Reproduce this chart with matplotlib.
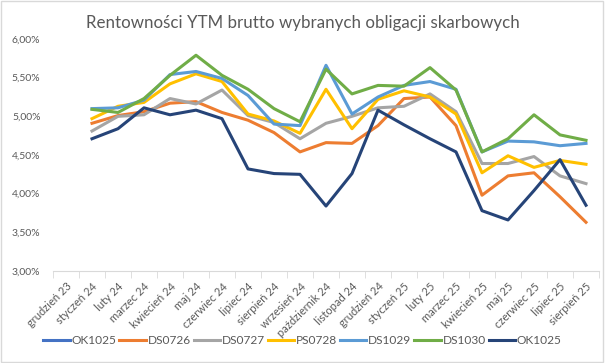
import matplotlib
matplotlib.use("Agg")
from matplotlib import pyplot as plt
from matplotlib.ticker import FuncFormatter
import numpy as np

plt.rcParams['font.family'] = ['Lato', 'DejaVu Sans']

months = ['grudzień 23', 'styczeń 24', 'luty 24', 'marzec 24', 'kwiecień 24', 'maj 24',
          'czerwiec 24', 'lipiec 24', 'sierpień 24', 'wrzesień 24', 'październik 24',
          'listopad 24', 'grudzień 24', 'styczeń 25', 'luty 25', 'marzec 25',
          'kwiecień 25', 'maj 25', 'czerwiec 25', 'lipiec 25', 'sierpień 25']

# yields in %, first month (grudzień 23) has no data
ok1025_a = [None] * 21
ds0726 = [None, 4.91, 5.01, 5.06, 5.17, 5.19, 5.05, 4.95, 4.79, 4.54, 4.66,
          4.65, 4.88, 5.23, 5.25, 4.88, 3.98, 4.23, 4.27, 3.96, 3.63]
ds0727 = [None, 4.81, 5.00, 5.02, 5.23, 5.16, 5.34, 5.01, 4.92, 4.71, 4.91,
          5.00, 5.11, 5.13, 5.29, 5.06, 4.39, 4.39, 4.48, 4.23, 4.13]
ps0728 = [None, 4.97, 5.13, 5.18, 5.42, 5.55, 5.45, 5.03, 4.94, 4.78, 5.35,
          4.84, 5.22, 5.33, 5.25, 5.03, 4.27, 4.49, 4.34, 4.43, 4.38]
ds1029 = [None, 5.10, 5.11, 5.21, 5.54, 5.58, 5.49, 5.27, 4.90, 4.88, 5.66,
          5.03, 5.25, 5.40, 5.45, 5.35, 4.54, 4.68, 4.67, 4.62, 4.65]
ds1030 = [None, 5.09, 5.05, 5.23, 5.53, 5.79, 5.53, 5.35, 5.10, 4.93, 5.61,
          5.29, 5.40, 5.39, 5.63, 5.34, 4.54, 4.71, 5.02, 4.76, 4.69]
ok1025_b = [None, 4.71, 4.84, 5.11, 5.02, 5.08, 4.97, 4.32, 4.26, 4.25, 3.84,
            4.26, 5.08, 4.89, 4.71, 4.54, 3.78, 3.66, 4.04, 4.44, 3.85]

series = [('OK1025', ok1025_a, '#4472C4'),
          ('DS0726', ds0726, '#ED7D31'),
          ('DS0727', ds0727, '#A5A5A5'),
          ('PS0728', ps0728, '#FFC000'),
          ('DS1029', ds1029, '#5B9BD5'),
          ('DS1030', ds1030, '#70AD47'),
          ('OK1025', ok1025_b, '#264478')]

fig = plt.figure(figsize=(6.05, 3.63), dpi=100)
ax = fig.add_axes([53 / 605, 1 - 271 / 363, 546 / 605, 232 / 363])

x = np.arange(len(months))
for name, vals, col in series:
    y = np.array([np.nan if v is None else v for v in vals], dtype=float)
    ax.plot(x, y, color=col, lw=2.2, label=name, solid_joinstyle='round')

ax.set_xlim(-0.5, len(months) - 0.5)
ax.set_ylim(3.0, 6.0)
ax.set_yticks(np.arange(3.0, 6.01, 0.5))
ax.yaxis.set_major_formatter(FuncFormatter(lambda v, p: f'{v:.2f}%'.replace('.', ',')))
ax.set_xticks(x)
ax.set_xticklabels(months, rotation=45, ha='right', rotation_mode='anchor')
ax.set_xticks(np.arange(-0.5, len(months)), minor=True)
ax.tick_params(axis='x', which='major', length=0, pad=7, labelsize=8, colors='#595959')
ax.tick_params(axis='x', which='minor', length=5, color='#D9D9D9')
ax.tick_params(axis='y', length=0, labelsize=7.5, colors='#595959', pad=9)

for s in ['top', 'right', 'left']:
    ax.spines[s].set_visible(False)
ax.spines['bottom'].set_color('#D9D9D9')

fig.text(0.5, 1 - 23 / 363, 'Rentowności YTM brutto wybranych obligacji skarbowych',
         ha='center', va='center', fontsize=12.2, color='#595959')

fig.legend(loc='center', bbox_to_anchor=(0.5, 1 - 341 / 363), ncol=7, frameon=False,
           fontsize=8.6, handlelength=2.2, handletextpad=0.15, columnspacing=0.25,
           labelcolor='#595959')

fig.patches.append(plt.Rectangle((0.002, 0.003), 0.995, 0.993, transform=fig.transFigure,
                                 fill=False, edgecolor='#D9D9D9', lw=1))

fig.savefig('out.png', dpi=100)
